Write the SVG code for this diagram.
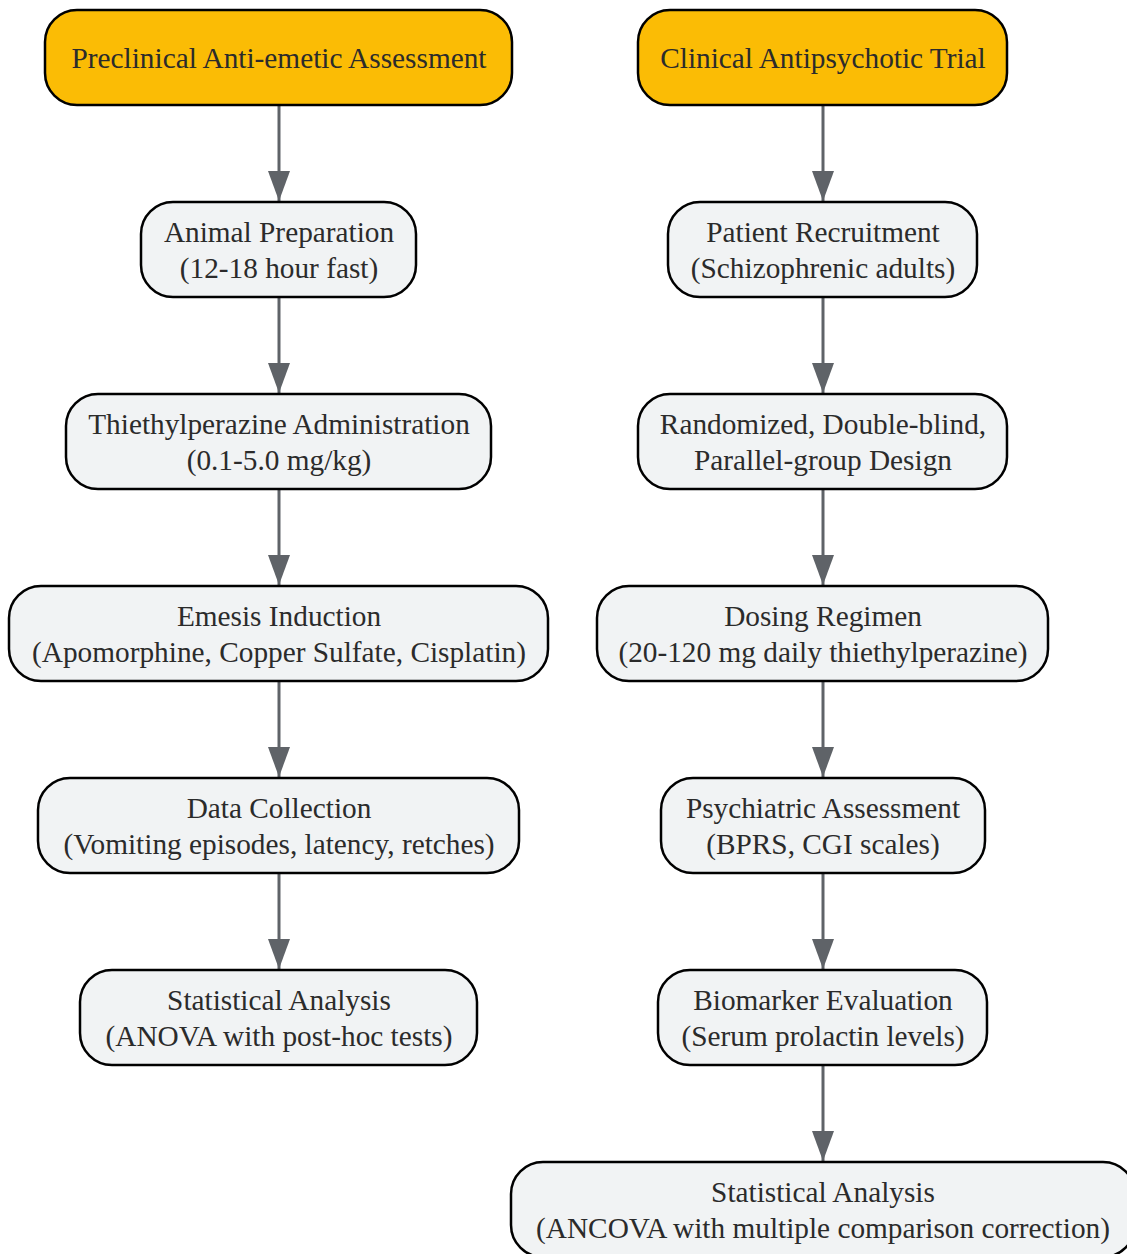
<svg xmlns="http://www.w3.org/2000/svg" width="1127" height="1254" viewBox="0 0 1127 1254">
<style>
.n rect{fill:#f1f3f4;stroke:#000;stroke-width:2.5}
.h rect{fill:#fbbc05;stroke:#000;stroke-width:2.5}
text{font-family:"Liberation Serif","Times New Roman",serif;font-size:29.3px;fill:#2b2b2b;text-anchor:middle}
.e line{stroke:#5f6368;stroke-width:3}
</style>
<defs>
<marker id="a" markerUnits="userSpaceOnUse" markerWidth="32" markerHeight="24" refX="30" refY="11" orient="auto">
<path d="M0,0 L30,11 L0,22 Z" fill="#5f6368"/>
</marker>
</defs>
<g id="edges" class="e">
<line x1="279" y1="106" x2="279" y2="201" marker-end="url(#a)"/>
<line x1="279" y1="298" x2="279" y2="393" marker-end="url(#a)"/>
<line x1="279" y1="490" x2="279" y2="585" marker-end="url(#a)"/>
<line x1="279" y1="682" x2="279" y2="777" marker-end="url(#a)"/>
<line x1="279" y1="874" x2="279" y2="969" marker-end="url(#a)"/>
<line x1="823" y1="106" x2="823" y2="201" marker-end="url(#a)"/>
<line x1="823" y1="298" x2="823" y2="393" marker-end="url(#a)"/>
<line x1="823" y1="490" x2="823" y2="585" marker-end="url(#a)"/>
<line x1="823" y1="682" x2="823" y2="777" marker-end="url(#a)"/>
<line x1="823" y1="874" x2="823" y2="969" marker-end="url(#a)"/>
<line x1="823" y1="1066" x2="823" y2="1161" marker-end="url(#a)"/>
</g>
<g id="L0" class="h"><rect x="45" y="10" width="467" height="95" rx="32"/><text x="279" y="68">Preclinical Anti-emetic Assessment</text></g>
<g id="L1" class="n"><rect x="141" y="202" width="275" height="95" rx="32"/><text x="279" y="242">Animal Preparation</text><text x="279" y="278">(12-18 hour fast)</text></g>
<g id="L2" class="n"><rect x="66" y="394" width="425" height="95" rx="32"/><text x="279" y="434">Thiethylperazine Administration</text><text x="279" y="470">(0.1-5.0 mg/kg)</text></g>
<g id="L3" class="n"><rect x="9" y="586" width="539" height="95" rx="32"/><text x="279" y="626">Emesis Induction</text><text x="279" y="662">(Apomorphine, Copper Sulfate, Cisplatin)</text></g>
<g id="L4" class="n"><rect x="38" y="778" width="481" height="95" rx="32"/><text x="279" y="818">Data Collection</text><text x="279" y="854">(Vomiting episodes, latency, retches)</text></g>
<g id="L5" class="n"><rect x="80" y="970" width="397" height="95" rx="32"/><text x="279" y="1010">Statistical Analysis</text><text x="279" y="1046">(ANOVA with post-hoc tests)</text></g>
<g id="R0" class="h"><rect x="638" y="10" width="369" height="95" rx="32"/><text x="823" y="68">Clinical Antipsychotic Trial</text></g>
<g id="R1" class="n"><rect x="668" y="202" width="309" height="95" rx="32"/><text x="823" y="242">Patient Recruitment</text><text x="823" y="278">(Schizophrenic adults)</text></g>
<g id="R2" class="n"><rect x="638" y="394" width="369" height="95" rx="32"/><text x="823" y="434">Randomized, Double-blind,</text><text x="823" y="470">Parallel-group Design</text></g>
<g id="R3" class="n"><rect x="597" y="586" width="451" height="95" rx="32"/><text x="823" y="626">Dosing Regimen</text><text x="823" y="662">(20-120 mg daily thiethylperazine)</text></g>
<g id="R4" class="n"><rect x="661" y="778" width="324" height="95" rx="32"/><text x="823" y="818">Psychiatric Assessment</text><text x="823" y="854">(BPRS, CGI scales)</text></g>
<g id="R5" class="n"><rect x="658" y="970" width="329" height="95" rx="32"/><text x="823" y="1010">Biomarker Evaluation</text><text x="823" y="1046">(Serum prolactin levels)</text></g>
<g id="R6" class="n"><rect x="511" y="1162" width="624" height="95" rx="32"/><text x="823" y="1202">Statistical Analysis</text><text x="823" y="1238">(ANCOVA with multiple comparison correction)</text></g>
</svg>
